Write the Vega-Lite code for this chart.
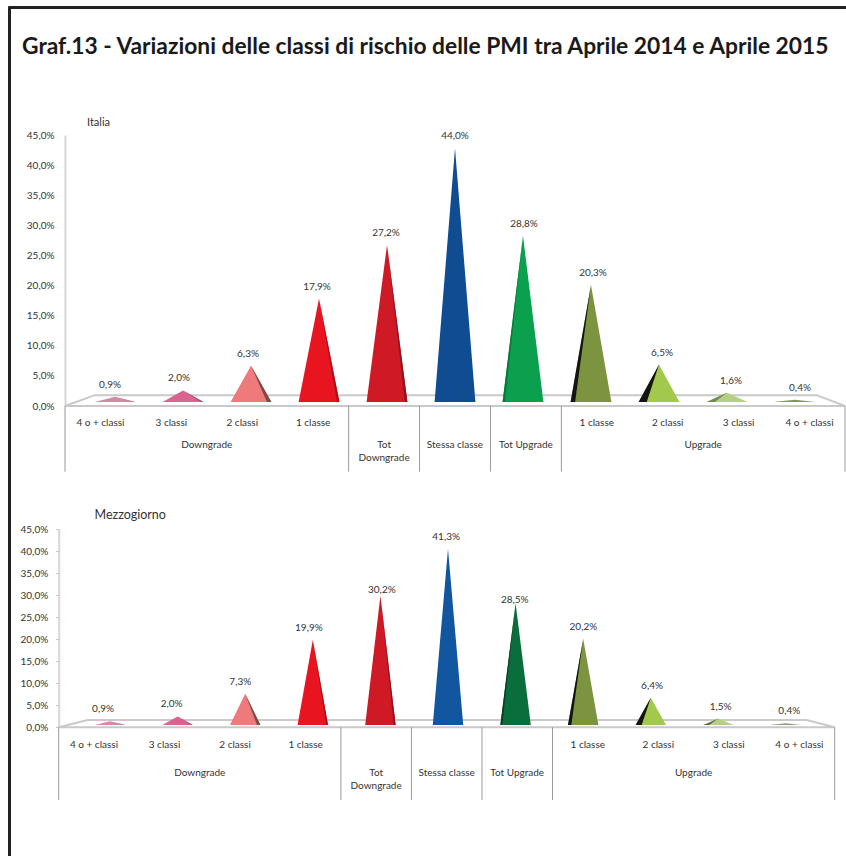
{
"$schema":"https://vega.github.io/schema/vega-lite/v6.json",
"width":846,"height":856,"padding":0,"autosize":{"type":"none"},"background":"white",
"title":{"text":"Graf.13  - Variazioni delle classi di rischio  delle PMI  tra Aprile 2014 e Aprile 2015","anchor":"start","frame":"group","offset":-59,"dx":22,"font":"Lato","fontSize":22.8,"fontWeight":"bold","color":"#1a1a1a"},
"config":{"view":{"stroke":null},"text":{"font":"Lato","fontSize":10,"color":"#333333"},"axis":{"labelFont":"Lato","titleFont":"Lato"}},
"datasets":{
"italia":[
{"i":1,"cat":"4 o + classi","value":0.9},{"i":2,"cat":"3 classi","value":2.0},{"i":3,"cat":"2 classi","value":6.3},{"i":4,"cat":"1 classe","value":17.9},{"i":5,"cat":"","value":27.2},{"i":6,"cat":"","value":44.0},{"i":7,"cat":"","value":28.8},{"i":8,"cat":"1 classe","value":20.3},{"i":9,"cat":"2 classi","value":6.5},{"i":10,"cat":"3 classi","value":1.6},{"i":11,"cat":"4 o + classi","value":0.4}],
"mezzogiorno":[
{"i":1,"cat":"4 o + classi","value":0.9},{"i":2,"cat":"3 classi","value":2.0},{"i":3,"cat":"2 classi","value":7.3},{"i":4,"cat":"1 classe","value":19.9},{"i":5,"cat":"","value":30.2},{"i":6,"cat":"","value":41.3},{"i":7,"cat":"","value":28.5},{"i":8,"cat":"1 classe","value":20.2},{"i":9,"cat":"2 classi","value":6.4},{"i":10,"cat":"3 classi","value":1.5},{"i":11,"cat":"4 o + classi","value":0.4}],
"groups":[{"center":2.5,"group":"Downgrade"},{"center":5,"group":"Tot\nDowngrade"},{"center":6,"group":"Stessa classe"},{"center":7,"group":"Tot Upgrade"},{"center":9.5,"group":"Upgrade"}],
"separators":[{"edge":0.5},{"edge":4.5},{"edge":5.5},{"edge":6.5},{"edge":7.5},{"edge":11.5}],
"floorItalia":[{"n":1,"fx":0.5,"fy":0},{"n":2,"fx":0.92,"fy":1.8},{"n":3,"fx":11.1,"fy":1.8},{"n":4,"fx":11.5,"fy":0},{"n":5,"fx":0.5,"fy":0}],
"floorMezzogiorno":[{"n":1,"fx":0.5,"fy":0},{"n":2,"fx":0.91,"fy":1.65},{"n":3,"fx":11.1,"fy":1.65},{"n":4,"fx":11.5,"fy":0},{"n":5,"fx":0.5,"fy":0}]
},
"resolve":{"scale":{"x":"independent","y":"independent","color":"independent"},"axis":{"x":"independent","y":"independent"}},
"layer":[
{"data":{"values":[]},"mark":"rule","encoding":{
 "x":{"field":"a","type":"quantitative","scale":{"domain":[0,1],"range":[8,846]},"axis":{"orient":"top","offset":-7,"title":null,"labels":false,"ticks":false,"grid":false,"domainColor":"#222222","domainWidth":3}},
 "y":{"field":"b","type":"quantitative","scale":{"domain":[0,1],"range":[856,6]},"axis":{"orient":"left","offset":-9,"title":null,"labels":false,"ticks":false,"grid":false,"domainColor":"#222222","domainWidth":3}}}},

{"data":{"name":"floorItalia"},"mark":{"type":"line","stroke":"#c9c9c9","strokeWidth":2},"encoding":{
 "order":{"field":"n","type":"ordinal"},
 "x":{"field":"fx","type":"quantitative","scale":{"domain":[0.5,11.5],"range":[65,845]},"axis":null},
 "y":{"field":"fy","type":"quantitative","scale":{"domain":[0,45],"range":[406,135]},"axis":{"orient":"left","offset":-65,"values":[0,5,10,15,20,25,30,35,40,45],"labelExpr":"replace(format(datum.value,'.1f'),'.',',')+'%'","labelFontSize":10,"labelColor":"#333333","labelPadding":11,"ticks":false,"grid":false,"domainColor":"#d6d6d6","domainWidth":2,"title":"Italia","titleAngle":0,"titleX":33,"titleY":122,"titleAlign":"center","titleBaseline":"middle","titleFontSize":11,"titleFontWeight":"normal","titleColor":"#333333"}}}},
{"data":{"name":"separators"},"mark":{"type":"rule","stroke":"#9a9a9a","strokeWidth":1},"encoding":{
 "x":{"field":"edge","type":"quantitative","scale":{"domain":[0.5,11.5],"range":[65,845]},"axis":null},
 "y":{"datum":0,"type":"quantitative","scale":{"domain":[0,45],"range":[406,135]},"axis":null},"y2":{"datum":-10.9}}},
{"data":{"name":"italia"},"mark":{"type":"text","align":"center","baseline":"middle"},"encoding":{
 "x":{"field":"i","type":"quantitative","scale":{"domain":[0.5,11.5],"range":[65,845]},"axis":null},
 "y":{"datum":-2.9,"type":"quantitative","scale":{"domain":[0,45],"range":[406,135]},"axis":null},"text":{"field":"cat"}}},
{"data":{"name":"groups"},"mark":{"type":"text","align":"center","baseline":"top","lineBreak":"\n","lineHeight":13},"encoding":{
 "x":{"field":"center","type":"quantitative","scale":{"domain":[0.5,11.5],"range":[65,845]},"axis":null},
 "y":{"datum":-5.6,"type":"quantitative","scale":{"domain":[0,45],"range":[406,135]},"axis":null},"text":{"field":"group"}}},
{"data":{"name":"italia"},"transform":[{"calculate":"[-1,0,1]","as":"sides"},{"flatten":["sides"],"as":["side"]},{"calculate":"datum.i+datum.side*0.3","as":"xp"},{"calculate":"datum.side==0?datum.value:0","as":"yp"}],
 "mark":{"type":"area","orient":"vertical"},"encoding":{
 "x":{"field":"xp","type":"quantitative","scale":{"domain":[0.5,11.5],"range":[81,829]},"axis":null},
 "y":{"field":"yp","type":"quantitative","scale":{"domain":[0,45],"range":[402,142.4]},"axis":null},
 "color":{"field":"i","type":"ordinal","legend":null,"scale":{"domain":[1,2,3,4,5,6,7,8,9,10,11],"range":["#d48aa6","#d8648f","#ee7a7c","#e8141f","#cf1a25","#0f4c92","#0ba04d","#7c9440","#a3c84e","#b5cf85","#7f9b52"]}}}},
{"data":{"name":"italia"},"transform":[{"filter":"datum.i!=6"},{"calculate":"datum.i<=5?1:-1","as":"d"},{"calculate":"datum.i==9||datum.i==10?0.6:(datum.i==8||datum.i==3?0.78:0.88)","as":"f"},{"calculate":"[0,datum.f,1]","as":"sides"},{"flatten":["sides"],"as":["s"]},{"calculate":"datum.i+datum.d*datum.s*0.3","as":"xp"},{"calculate":"datum.value*(1-datum.s)","as":"yTop"},{"calculate":"datum.s<=datum.f?datum.value*(1-datum.s/datum.f):0","as":"yBot"}],
 "mark":{"type":"area","orient":"vertical"},"encoding":{
 "x":{"field":"xp","type":"quantitative","scale":{"domain":[0.5,11.5],"range":[81,829]},"axis":null},
 "y":{"field":"yTop","type":"quantitative","scale":{"domain":[0,45],"range":[402,142.4]},"axis":null},"y2":{"field":"yBot"},
 "color":{"field":"i","type":"ordinal","legend":null,"scale":{"domain":[1,2,3,4,5,7,8,9,10,11],"range":["#9f6a80","#a84a72","#7a4a45","#a8101a","#8c1420","#0a7a3a","#141414","#141414","#6f8a55","#5f7a3f"]}}}},
{"data":{"name":"italia"},"transform":[{"calculate":"replace(format(datum.value,'.1f'),'.',',')+'%'","as":"label"}],
 "mark":{"type":"text","align":"center","baseline":"middle","dy":-12},"encoding":{
 "x":{"field":"i","type":"quantitative","scale":{"domain":[0.5,11.5],"range":[75.5,834.5]},"axis":null},
 "y":{"field":"value","type":"quantitative","scale":{"domain":[0,45],"range":[402,142.4]},"axis":null},"text":{"field":"label"}}},

{"data":{"name":"floorMezzogiorno"},"mark":{"type":"line","stroke":"#c9c9c9","strokeWidth":2},"encoding":{
 "order":{"field":"n","type":"ordinal"},
 "x":{"field":"fx","type":"quantitative","scale":{"domain":[0.5,11.5],"range":[58.7,834.7]},"axis":null},
 "y":{"field":"fy","type":"quantitative","scale":{"domain":[0,45],"range":[727.3,529]},"axis":{"orient":"left","offset":-58.7,"values":[0,5,10,15,20,25,30,35,40,45],"labelExpr":"replace(format(datum.value,'.1f'),'.',',')+'%'","labelFontSize":10,"labelColor":"#333333","labelPadding":8,"ticks":true,"tickSize":3,"tickColor":"#c0c0c0","grid":false,"domainColor":"#d6d6d6","domainWidth":2,"title":"Mezzogiorno","titleAngle":0,"titleX":71,"titleY":514,"titleAlign":"center","titleBaseline":"middle","titleFontSize":12.5,"titleFontWeight":"normal","titleColor":"#333333"}}}},
{"data":{"name":"separators"},"mark":{"type":"rule","stroke":"#9a9a9a","strokeWidth":1},"encoding":{
 "x":{"field":"edge","type":"quantitative","scale":{"domain":[0.5,11.5],"range":[58.7,834.7]},"axis":null},
 "y":{"datum":0,"type":"quantitative","scale":{"domain":[0,45],"range":[727.3,529]},"axis":null},"y2":{"datum":-16.5}}},
{"data":{"name":"mezzogiorno"},"mark":{"type":"text","align":"center","baseline":"middle"},"encoding":{
 "x":{"field":"i","type":"quantitative","scale":{"domain":[0.5,11.5],"range":[58.7,834.7]},"axis":null},
 "y":{"datum":-3.95,"type":"quantitative","scale":{"domain":[0,45],"range":[727.3,529]},"axis":null},"text":{"field":"cat"}}},
{"data":{"name":"groups"},"mark":{"type":"text","align":"center","baseline":"top","lineBreak":"\n","lineHeight":13},"encoding":{
 "x":{"field":"center","type":"quantitative","scale":{"domain":[0.5,11.5],"range":[58.7,834.7]},"axis":null},
 "y":{"datum":-9.2,"type":"quantitative","scale":{"domain":[0,45],"range":[727.3,529]},"axis":null},"text":{"field":"group"}}},
{"data":{"name":"mezzogiorno"},"transform":[{"calculate":"[-1,0,1]","as":"sides"},{"flatten":["sides"],"as":["side"]},{"calculate":"datum.i+datum.side*0.225","as":"xp"},{"calculate":"datum.side==0?datum.value:0","as":"yp"}],
 "mark":{"type":"area","orient":"vertical"},"encoding":{
 "x":{"field":"xp","type":"quantitative","scale":{"domain":[0.5,11.5],"range":[76.2,819.8]},"axis":null},
 "y":{"field":"yp","type":"quantitative","scale":{"domain":[0,45],"range":[725,532.9]},"axis":null},
 "color":{"field":"i","type":"ordinal","legend":null,"scale":{"domain":[1,2,3,4,5,6,7,8,9,10,11],"range":["#d48aa6","#d8648f","#ee7a7c","#e8141f","#cf1a25","#11569f","#0a6e3c","#7c9440","#a3c84e","#b5cf85","#8f9f78"]}}}},
{"data":{"name":"mezzogiorno"},"transform":[{"filter":"datum.i!=6"},{"calculate":"datum.i<=5?1:-1","as":"d"},{"calculate":"datum.i==9||datum.i==10?0.6:(datum.i==8||datum.i==3?0.78:0.88)","as":"f"},{"calculate":"[0,datum.f,1]","as":"sides"},{"flatten":["sides"],"as":["s"]},{"calculate":"datum.i+datum.d*datum.s*0.225","as":"xp"},{"calculate":"datum.value*(1-datum.s)","as":"yTop"},{"calculate":"datum.s<=datum.f?datum.value*(1-datum.s/datum.f):0","as":"yBot"}],
 "mark":{"type":"area","orient":"vertical"},"encoding":{
 "x":{"field":"xp","type":"quantitative","scale":{"domain":[0.5,11.5],"range":[76.2,819.8]},"axis":null},
 "y":{"field":"yTop","type":"quantitative","scale":{"domain":[0,45],"range":[725,532.9]},"axis":null},"y2":{"field":"yBot"},
 "color":{"field":"i","type":"ordinal","legend":null,"scale":{"domain":[1,2,3,4,5,7,8,9,10,11],"range":["#9f6a80","#a84a72","#7a4a45","#a8101a","#8c1420","#053a1d","#141414","#141414","#5f6a4f","#6f7a60"]}}}},
{"data":{"name":"mezzogiorno"},"transform":[{"filter":"datum.i!=5&&datum.i!=7"},{"calculate":"replace(format(datum.value,'.1f'),'.',',')+'%'","as":"label"}],
 "mark":{"type":"text","align":"center","baseline":"middle","dy":-12},"encoding":{
 "x":{"field":"i","type":"quantitative","scale":{"domain":[0.5,11.5],"range":[68.7,823.6]},"axis":null},
 "y":{"field":"value","type":"quantitative","scale":{"domain":[0,45],"range":[725,532.9]},"axis":null},"text":{"field":"label"}}},
{"data":{"name":"mezzogiorno"},"transform":[{"filter":"datum.i==5"},{"calculate":"replace(format(datum.value,'.1f'),'.',',')+'%'","as":"label"}],
 "mark":{"type":"text","align":"center","baseline":"middle","dy":-6},"encoding":{
 "x":{"field":"i","type":"quantitative","scale":{"domain":[0.5,11.5],"range":[73,828]},"axis":null},
 "y":{"field":"value","type":"quantitative","scale":{"domain":[0,45],"range":[725,532.9]},"axis":null},"text":{"field":"label"}}},
{"data":{"name":"mezzogiorno"},"transform":[{"filter":"datum.i==7"},{"calculate":"replace(format(datum.value,'.1f'),'.',',')+'%'","as":"label"}],
 "mark":{"type":"text","align":"center","baseline":"middle","dy":-3.5},"encoding":{
 "x":{"field":"i","type":"quantitative","scale":{"domain":[0.5,11.5],"range":[68.7,823.6]},"axis":null},
 "y":{"field":"value","type":"quantitative","scale":{"domain":[0,45],"range":[725,532.9]},"axis":null},"text":{"field":"label"}}}
]}
